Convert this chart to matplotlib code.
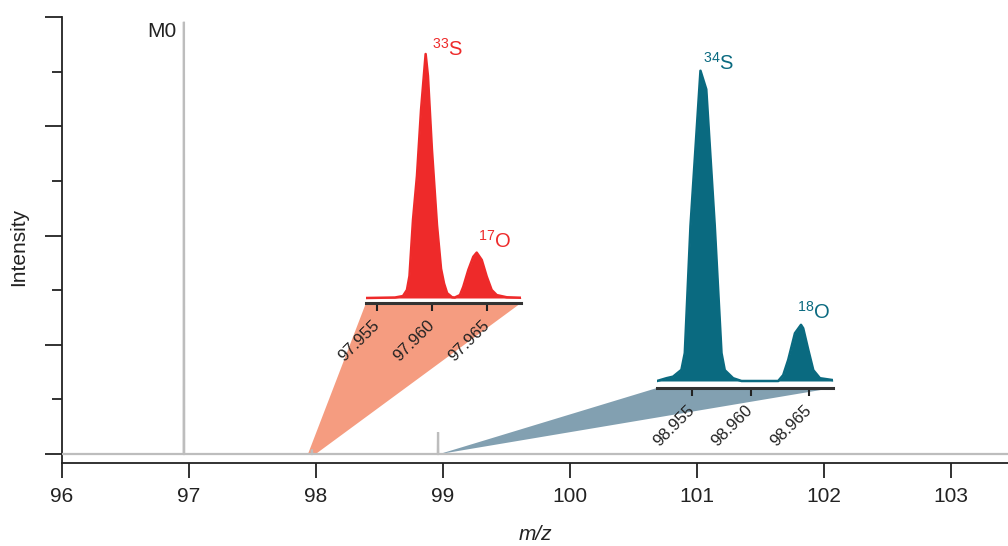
import matplotlib
matplotlib.use("Agg")
import matplotlib.pyplot as plt
from matplotlib.patches import Polygon
import numpy as np

plt.rcParams['font.family'] = ['Liberation Sans', 'DejaVu Sans']
plt.rcParams['mathtext.fontset'] = 'custom'
plt.rcParams['mathtext.rm'] = 'Liberation Sans'
plt.rcParams['mathtext.it'] = 'Liberation Sans:italic'

# ---------------- data ----------------
# main spectrum (m/z, relative intensity)
main_mz = [96.0, 96.958, 96.960, 96.962, 97.966, 97.968, 97.970,
           98.959, 98.961, 98.963, 103.45]
main_int = [0, 0, 98.9, 0, 0, 1.0, 0, 0, 5.0, 0, 0]
main_xticks = [96, 97, 98, 99, 100, 101, 102, 103]

# zoom around M+1 (33S / 17O)
m1_mz = [97.95403, 97.95666, 97.95739, 97.95775, 97.95798, 97.9583, 97.95866,
         97.95903, 97.95945, 97.95966, 97.96002, 97.96048, 97.96085, 97.96112,
         97.9614, 97.96185, 97.9621, 97.96257, 97.96287, 97.96333, 97.96378,
         97.96409, 97.96455, 97.965, 97.96545, 97.96591, 97.96682, 97.96812]
m1_int = [0, 0.002, 0.008, 0.033, 0.09, 0.32, 0.50,
          0.77, 1.0, 0.91, 0.61, 0.30, 0.12, 0.06,
          0.02, 0.003, 0.002, 0.012, 0.046, 0.115, 0.169,
          0.186, 0.156, 0.088, 0.033, 0.012, 0.003, 0.001]
m1_ticks = [97.955, 97.960, 97.965]
m1_region = (97.937, 97.998)

# zoom around M+2 (34S / 18O)
m2_mz = [98.95195, 98.95276, 98.95333, 98.95405, 98.95434, 98.95483, 98.95569,
         98.95619, 98.95692, 98.9575, 98.95778, 98.9585, 98.95922, 98.96238,
         98.96281, 98.96324, 98.96382, 98.96434, 98.96453, 98.96497, 98.9654,
         98.96597, 98.96707]
m2_int = [0, 0.009, 0.014, 0.036, 0.09, 0.50, 1.0,
          0.94, 0.50, 0.09, 0.035, 0.009, 0, 0,
          0.019, 0.068, 0.154, 0.181, 0.170, 0.10, 0.035,
          0.009, 0.003]
m2_ticks = [98.955, 98.960, 98.965]
m2_region = (98.974, 98.978)

gray = '#bdbdbd'
red = '#ee2a2a'
salmon = '#f59c80'
teal = '#0a6a80'
bluegray = '#82a0b1'
dark = '#222222'

fig = plt.figure(figsize=(10.08, 5.46), dpi=100)
ax = fig.add_axes([0.06151, 0.15201, 0.93849, 0.81685])
ax.plot(main_mz, main_int, color=gray, lw=1.6, solid_joinstyle='miter', zorder=3)
ax.set_xlim(96, 103.449)
ax.set_ylim(-2.06, 100)
ax.set_xticks(main_xticks)
ax.set_xticklabels([str(t) for t in main_xticks], fontsize=15, color=dark)
ax.set_yticks([0, 25, 50, 75, 100])
ax.set_yticks([12.5, 37.5, 62.5, 87.5], minor=True)
ax.set_yticklabels([])
ax.tick_params(axis='x', length=11, width=1.3, color=dark, pad=6)
ax.tick_params(axis='y', which='major', length=12, width=1.3, color=dark)
ax.tick_params(axis='y', which='minor', length=7, width=1.3, color=dark)
for s in ['top', 'right']:
    ax.spines[s].set_visible(False)
for s in ['left', 'bottom']:
    ax.spines[s].set_linewidth(1.3)
    ax.spines[s].set_color(dark)
ax.set_xlabel('m/z', fontsize=15, style='italic', color=dark, labelpad=14)
ax.set_ylabel('Intensity', fontsize=15, color=dark)
ax.yaxis.set_label_coords(-0.036, 0.485)
ax.text(96.9, 96.6, 'M0', fontsize=15, color=dark, ha='right', va='center')


def make_inset(rect, mz, inten, ticks, ylim, color):
    a = fig.add_axes(rect)
    a.set_facecolor('none')
    a.fill_between(mz, 0, inten, color=color, lw=0)
    a.plot(mz, inten, color=color, lw=1.8)
    a.set_xlim(mz[0], mz[-1])
    a.set_ylim(*ylim)
    a.set_yticks([])
    a.set_xticks(ticks)
    a.set_xticklabels(['%.3f' % t for t in ticks], rotation=45, ha='right',
                      va='center', rotation_mode='anchor', fontsize=12,
                      color=dark)
    a.tick_params(axis='x', length=6, width=1.5, color=dark, pad=8)
    for s in ['top', 'right', 'left']:
        a.spines[s].set_visible(False)
    a.spines['bottom'].set_linewidth(2.2)
    a.spines['bottom'].set_color('#333333')
    return a


ax1 = make_inset([0.3631, 0.44505, 0.1538, 0.4817], m1_mz, m1_int, m1_ticks,
                 (-0.0205, 1.0574), red)
ax2 = make_inset([0.6518, 0.28938, 0.1743, 0.6007], m2_mz, m2_int, m2_ticks,
                 (-0.02256, 1.0345), teal)

lab_fs = 14.5
ax1.text(97.9600, 0.992, r'$^{33}$S', color=red, fontsize=lab_fs, ha='left', va='baseline', clip_on=False)
ax1.text(97.96424, 0.204, r'$^{17}$O', color=red, fontsize=lab_fs, ha='left', va='baseline', clip_on=False)
ax2.text(98.95591, 1.002, r'$^{34}$S', color=teal, fontsize=lab_fs, ha='left', va='baseline', clip_on=False)
ax2.text(98.96397, 0.202, r'$^{18}$O', color=teal, fontsize=lab_fs, ha='left', va='baseline', clip_on=False)

# connecting wedges
inv = ax.transData.inverted()
def wedge(region, a, color):
    bl = inv.transform(a.transAxes.transform((0, 0)))
    br = inv.transform(a.transAxes.transform((1, 0)))
    pts = [(region[0], 0), (region[1], 0), tuple(br), tuple(bl)]
    ax.add_patch(Polygon(pts, closed=True, facecolor=color, edgecolor='none',
                         zorder=1, clip_on=False))

wedge(m1_region, ax1, salmon)
wedge(m2_region, ax2, bluegray)

fig.savefig('out.png', dpi=100)
